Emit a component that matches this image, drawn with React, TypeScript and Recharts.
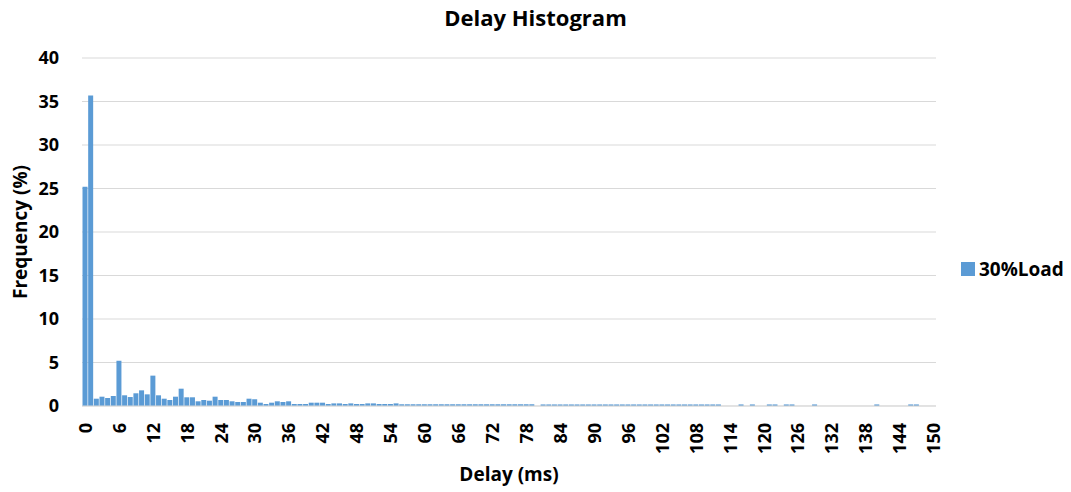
import React from "react";
import { BarChart, Bar, XAxis, YAxis, CartesianGrid } from "recharts";

const delays = [
  0, 1, 2, 3, 4, 5, 6, 7, 8, 9, 10, 11, 12, 13, 14, 15, 16, 17, 18, 19, 20,
  21, 22, 23, 24, 25, 26, 27, 28, 29, 30, 31, 32, 33, 34, 35, 36, 37, 38, 39, 40,
  41, 42, 43, 44, 45, 46, 47, 48, 49, 50, 51, 52, 53, 54, 55, 56, 57, 58, 59, 60,
  61, 62, 63, 64, 65, 66, 67, 68, 69, 70, 71, 72, 73, 74, 75, 76, 77, 78, 79, 80,
  81, 82, 83, 84, 85, 86, 87, 88, 89, 90, 91, 92, 93, 94, 95, 96, 97, 98, 99, 100,
  101, 102, 103, 104, 105, 106, 107, 108, 109, 110, 111, 112, 113, 114, 115, 116, 117, 118, 119, 120,
  121, 122, 123, 124, 125, 126, 127, 128, 129, 130, 131, 132, 133, 134, 135, 136, 137, 138, 139, 140,
  141, 142, 143, 144, 145, 146, 147, 148, 149, 150,
];

const load30 = [
  25.2, 35.7, 0.84, 1.07, 0.92, 1.15, 5.2, 1.23, 1.03, 1.46, 1.8,
  1.34, 3.49, 1.23, 0.84, 0.69, 1.07, 1.99, 1.0, 1.0, 0.54,
  0.69, 0.61, 1.07, 0.69, 0.69, 0.54, 0.46, 0.46, 0.84, 0.77,
  0.38, 0.23, 0.38, 0.54, 0.46, 0.54, 0.23, 0.23, 0.23, 0.38,
  0.38, 0.38, 0.23, 0.3, 0.3, 0.23, 0.3, 0.23, 0.23, 0.3,
  0.3, 0.23, 0.23, 0.23, 0.3, 0.2, 0.2, 0.2, 0.2, 0.2,
  0.2, 0.2, 0.2, 0.2, 0.2, 0.2, 0.2, 0.2, 0.2, 0.2,
  0.2, 0.2, 0.2, 0.2, 0.2, 0.2, 0.2, 0.2, 0.2, 0,
  0.18, 0.18, 0.18, 0.18, 0.18, 0.18, 0.18, 0.18, 0.18, 0.18,
  0.18, 0.18, 0.18, 0.18, 0.18, 0.18, 0.18, 0.18, 0.18, 0.18,
  0.18, 0.18, 0.18, 0.18, 0.18, 0.18, 0.18, 0.18, 0.18, 0.18,
  0.18, 0.18, 0, 0, 0, 0.18, 0, 0.18, 0, 0,
  0.18, 0.18, 0, 0.18, 0.18, 0, 0, 0, 0.18, 0,
  0, 0, 0, 0, 0, 0, 0, 0, 0, 0.18,
  0, 0, 0, 0, 0, 0.18, 0.18, 0, 0, 0,
];

const xTicks = [0, 6, 12, 18, 24, 30, 36, 42, 48, 54, 60, 66, 72, 78, 84, 90, 96, 102, 108, 114, 120, 126, 132, 138, 144, 150];
const yTicks = [0, 5, 10, 15, 20, 25, 30, 35, 40];

const data = delays.map((d, i) => ({ delay: d, load: load30[i] }));

const FONT = "'Open Sans', sans-serif";
const BLUE = "#5b9bd5";

function XTick(props: any) {
  const { x, y, payload } = props;
  return (
    <text
      x={x}
      y={y}
      transform={`rotate(-90, ${x}, ${y})`}
      textAnchor="end"
      dominantBaseline="central"
      fontSize={18}
      fontWeight={700}
      fill="#000"
      fontFamily={FONT}
    >
      {payload.value}
    </text>
  );
}

export default function App() {
  return (
    <div style={{ position: "absolute", left: 0, top: 0, width: 1071, height: 492, background: "#fff", fontFamily: FONT }}>
      <div style={{ position: "absolute", left: 0, width: 1071, top: 2, textAlign: "center", fontSize: 22, fontWeight: 700, color: "#000" }}>
        Delay Histogram
      </div>
      <div
        style={{
          position: "absolute", left: 20, top: 232, transform: "translate(-50%, -50%) rotate(-90deg)",
          fontSize: 19, fontWeight: 700, whiteSpace: "nowrap", color: "#000",
        }}
      >
        Frequency (%)
      </div>
      <div
        style={{
          position: "absolute", left: 509, top: 474, transform: "translate(-50%, -50%)",
          fontSize: 19, fontWeight: 700, whiteSpace: "nowrap", color: "#000",
        }}
      >
        Delay (ms)
      </div>
      <div
        style={{
          position: "absolute", left: 961, top: 256, display: "flex", alignItems: "center",
          fontWeight: 700, fontSize: 19, color: "#000",
        }}
      >
        <span style={{ display: "inline-block", width: 14, height: 14, background: BLUE, marginRight: 4 }} />
        <span>30%Load</span>
      </div>
      <BarChart
        width={1071}
        height={492}
        data={data}
        margin={{ top: 58, right: 135, bottom: 26, left: 22 }}
        barCategoryGap="9%"
      >
        <CartesianGrid vertical={false} stroke="#d9d9d9" />
        <XAxis
          dataKey="delay"
          ticks={xTicks}
          interval={0}
          height={60}
          tickSize={0}
          tickMargin={17}
          tickLine={false}
          axisLine={{ stroke: "#d9d9d9" }}
          tick={<XTick />}
        />
        <YAxis
          domain={[0, 40]}
          ticks={yTicks}
          width={60}
          tickSize={0}
          tickMargin={23}
          axisLine={false}
          tickLine={false}
          tick={{ fontSize: 18, fontWeight: 700, fill: "#000", fontFamily: FONT }}
        />
        <Bar dataKey="load" fill={BLUE} isAnimationActive={false} />
      </BarChart>
    </div>
  );
}
